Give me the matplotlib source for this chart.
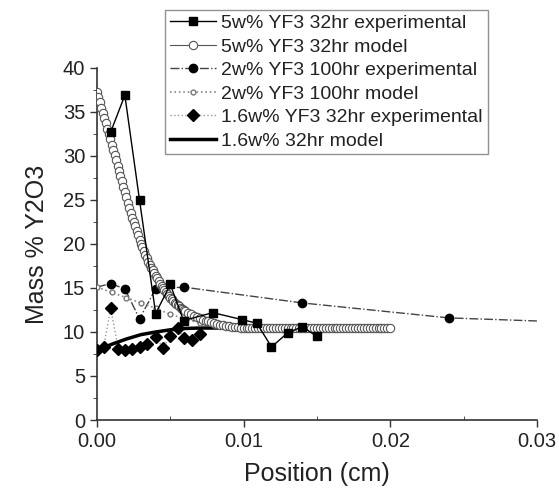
import matplotlib.pyplot as plt
import numpy as np
from matplotlib.ticker import MultipleLocator

plt.rcParams['font.family'] = ['Liberation Sans', 'DejaVu Sans']

# 5w% YF3 32hr experimental
exp5_x = [0.00093, 0.0019, 0.0029, 0.0040, 0.0050, 0.0059, 0.0079, 0.0099, 0.0109, 0.0119, 0.0130, 0.0140, 0.0150]
exp5_y = [32.7, 36.9, 25.0, 12.1, 15.4, 11.3, 12.2, 11.4, 11.0, 8.3, 9.9, 10.6, 9.5]

# 5w% YF3 32hr model (dense output grid)
mod5_x = np.concatenate([np.arange(0, 0.00605, 0.0001),
                         np.arange(0.0062, 0.02005, 0.0002)])
mod5_y = [37.3, 36.7, 36.1, 35.5, 34.9, 34.3, 33.7, 33.1, 32.5, 31.9,
          31.3, 30.7, 30.1, 29.5, 28.9, 28.3, 27.7, 27.1, 26.5, 25.9,
          25.3, 24.7, 24.1, 23.5, 23.0, 22.5, 22.0, 21.5, 21.0, 20.5,
          20.0, 19.6, 19.2, 18.8, 18.4, 18.0, 17.6, 17.3, 17.0, 16.7,
          16.4, 16.1, 15.8, 15.5, 15.25, 15.0, 14.75, 14.5, 14.3, 14.1,
          13.9, 13.7, 13.5, 13.35, 13.2, 13.05, 12.9, 12.75, 12.6, 12.5,
          12.4,
          12.2, 12.0, 11.85, 11.7, 11.55, 11.4, 11.3, 11.2, 11.1, 11.0,
          10.9, 10.8, 10.75, 10.7, 10.65, 10.6, 10.55, 10.52, 10.5, 10.48,
          10.47, 10.46, 10.45, 10.45, 10.44, 10.44, 10.43, 10.43, 10.42, 10.42,
          10.41, 10.41, 10.41, 10.4, 10.4, 10.4, 10.4, 10.4, 10.4, 10.4,
          10.4, 10.4, 10.4, 10.4, 10.4, 10.4, 10.4, 10.4, 10.4, 10.4,
          10.4, 10.4, 10.4, 10.4, 10.4, 10.4, 10.4, 10.4, 10.4, 10.4,
          10.4, 10.4, 10.4, 10.4, 10.4, 10.4, 10.4, 10.4, 10.4, 10.4]

# 2w% YF3 100hr experimental
exp2_x = [0.0, 0.00093, 0.0019, 0.0029, 0.0040, 0.0059, 0.0140, 0.0240, 0.0300]
exp2_y = [15.1, 15.5, 14.9, 11.5, 14.9, 15.1, 13.3, 11.6, 11.25]

# 2w% YF3 100hr model
mod2_x = [0.0, 0.001, 0.002, 0.003, 0.004, 0.005, 0.006, 0.007, 0.008, 0.009, 0.010,
          0.011, 0.012, 0.013, 0.014, 0.015, 0.016, 0.017, 0.018, 0.019, 0.020]
mod2_y = [15.1, 14.5, 13.9, 13.3, 12.7, 12.0, 11.5, 11.0, 10.8, 10.6, 10.5,
          10.5, 10.5, 10.5, 10.5, 10.5, 10.5, 10.5, 10.5, 10.5, 10.5]

# 1.6w% YF3 32hr experimental
exp16_x = [0.0, 0.00045, 0.00093, 0.00145, 0.0019, 0.0024, 0.0029, 0.0034, 0.0040,
           0.0045, 0.0050, 0.0055, 0.0059, 0.0065, 0.0070]
exp16_y = [7.9, 8.3, 12.7, 8.1, 7.9, 8.1, 8.3, 8.6, 9.4, 8.2, 9.5, 10.5, 9.3, 9.1, 9.8]

# 1.6w% 32hr model
mod16_x = [0.0, 0.001, 0.002, 0.003, 0.004, 0.005, 0.006, 0.007, 0.008, 0.010, 0.015, 0.020]
mod16_y = [7.9, 8.6, 9.2, 9.7, 10.0, 10.25, 10.4, 10.45, 10.45, 10.45, 10.45, 10.45]

fig = plt.figure(figsize=(5.59, 4.91), dpi=100)
ax = fig.add_axes([0.1735, 0.1446, 0.787, 0.717])

ax.plot(exp16_x, exp16_y, linestyle=':', color='#999999', lw=1.0,
        marker='D', markersize=6, markerfacecolor='black', markeredgecolor='black',
        label='1.6w% YF3 32hr experimental', zorder=3)
ax.plot(mod16_x, mod16_y, color='black', lw=2.5, label='1.6w% 32hr model', zorder=4)
ax.plot(exp2_x, exp2_y, linestyle='-.', color='#444444', lw=1.0,
        marker='o', markersize=6, markerfacecolor='black', markeredgecolor='black',
        markevery=list(range(1, len(exp2_x) - 1)),
        label='2w% YF3 100hr experimental', zorder=3)
ax.plot(mod2_x, mod2_y, linestyle=':', color='#888888', lw=1.2,
        marker='o', markersize=3.5, markerfacecolor='white', markeredgecolor='#777777',
        label='2w% YF3 100hr model', zorder=5)
ax.plot(exp5_x, exp5_y, color='black', lw=1.0,
        marker='s', markersize=6, markerfacecolor='black', markeredgecolor='black',
        label='5w% YF3 32hr experimental', zorder=6)
ax.plot(mod5_x, mod5_y, color='#555555', lw=0.8,
        marker='o', markersize=6, markerfacecolor='white', markeredgecolor='#555555',
        markeredgewidth=0.8, label='5w% YF3 32hr model', zorder=5)

ax.set_xlim(0, 0.03)
ax.set_ylim(0, 40)
ax.xaxis.set_major_locator(MultipleLocator(0.01))
ax.xaxis.set_minor_locator(MultipleLocator(0.005))
ax.yaxis.set_major_locator(MultipleLocator(5))
ax.yaxis.set_minor_locator(MultipleLocator(2.5))
ax.xaxis.set_major_formatter(plt.FormatStrFormatter('%.2f'))
ax.spines['top'].set_visible(False)
ax.spines['right'].set_visible(False)
for s in ['left', 'bottom']:
    ax.spines[s].set_color('#333333')
    ax.spines[s].set_linewidth(1.2)
ax.tick_params(which='major', direction='out', length=5, width=1, labelsize=14.5,
               colors='#333333', labelcolor='#222222')
ax.tick_params(axis='y', which='minor', direction='out', length=3, colors='#333333')
ax.tick_params(axis='x', which='minor', direction='in', length=3, colors='#333333')

ax.set_xlabel('Position (cm)', fontsize=18, color='#222222', labelpad=8)
ax.set_ylabel('Mass % Y2O3', fontsize=18, color='#222222', labelpad=10)

handles, labels = ax.get_legend_handles_labels()
order = [4, 5, 2, 3, 0, 1]
leg = fig.legend([handles[i] for i in order], [labels[i] for i in order],
                 loc='upper left', bbox_to_anchor=(0.295, 0.98), bbox_transform=fig.transFigure,
                 fontsize=14, frameon=True, fancybox=False, edgecolor='#777777',
                 handlelength=2.4, handletextpad=0.25, borderpad=0.25, labelspacing=0.3,
                 borderaxespad=0)
leg.get_frame().set_linewidth(1.0)
for t in leg.get_texts():
    t.set_color('#222222')

fig.savefig('out.png', dpi=100)
